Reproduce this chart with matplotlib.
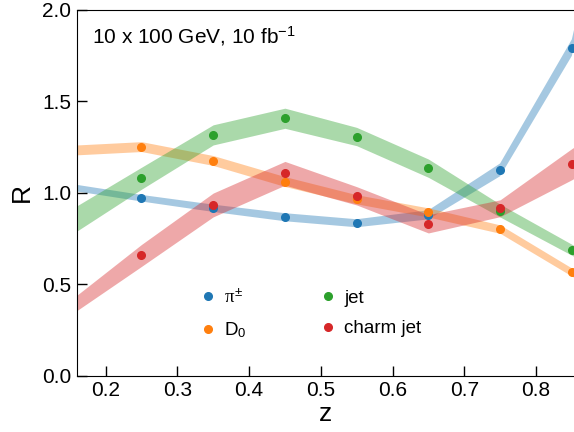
"""
Ratio R versus z for pions, D0, jets and charm jets.
"""

import matplotlib
matplotlib.use("Agg")
import matplotlib.pyplot as plt
import numpy as np

plt.rcParams['font.family'] = ['Liberation Sans', 'DejaVu Sans']
plt.rcParams['mathtext.fontset'] = 'custom'
plt.rcParams['mathtext.rm'] = 'Liberation Sans'
plt.rcParams['mathtext.it'] = 'Liberation Serif'
plt.rcParams['mathtext.sf'] = 'Liberation Sans'

# z bin centres (first and last lie outside the shown range)
z = np.array([0.15, 0.25, 0.35, 0.45, 0.55, 0.65, 0.75, 0.85, 0.95])

pion = np.array([1.032, 0.971, 0.916, 0.867, 0.834, 0.880, 1.126, 1.794, 3.5])
pion_err = np.array([0.018, 0.018, 0.020, 0.022, 0.022, 0.025, 0.035, 0.045, 0.06])

d0 = np.array([1.233, 1.253, 1.177, 1.062, 0.965, 0.893, 0.802, 0.567, 0.35])
d0_err = np.array([0.027, 0.027, 0.027, 0.027, 0.025, 0.025, 0.023, 0.022, 0.022])

jet = np.array([0.836, 1.080, 1.317, 1.408, 1.308, 1.135, 0.903, 0.689, 0.48])
jet_err = np.array([0.070, 0.060, 0.055, 0.055, 0.050, 0.050, 0.035, 0.030, 0.030])

charm = np.array([0.37, 0.658, 0.934, 1.107, 0.984, 0.831, 0.916, 1.157, 1.40])
charm_err = np.array([0.040, 0.060, 0.065, 0.065, 0.050, 0.050, 0.046, 0.085, 0.10])

labels = [r'$\pi^{\pm}$', r'D$_0$', 'jet', 'charm jet']
colors = ['tab:blue', 'tab:orange', 'tab:green', 'tab:red']

fig = plt.figure(figsize=(5.74, 4.32), dpi=100)
ax = fig.add_axes([0.134, 0.13, 0.866, 0.847])

series = [(pion, pion_err), (d0, d0_err), (jet, jet_err), (charm, charm_err)]

# uncertainty bands
for (val, err), col in zip(series, colors):
    ax.fill_between(z, val - err, val + err, color=col, alpha=0.4, lw=0)

# points
for (val, err), col, lab in zip(series, colors, labels):
    ax.plot(z, val, 'o', color=col, ms=5.5, label=lab)

ax.set_xlim(0.16, 0.853)
ax.set_ylim(0.0, 2.0)
ax.set_xticks([0.2, 0.3, 0.4, 0.5, 0.6, 0.7, 0.8])
ax.set_yticks([0.0, 0.5, 1.0, 1.5, 2.0])
ax.yaxis.set_major_formatter(matplotlib.ticker.FormatStrFormatter('%.1f'))
ax.tick_params(direction='in', length=7, width=1, labelsize=15, pad=4)
ax.spines['right'].set_visible(False)

ax.set_xlabel('z', fontsize=19, labelpad=1)
ax.set_ylabel('R', fontsize=19, labelpad=6)

ax.text(0.03, 0.96, r'10 x 100 GeV, 10 fb$^{-1}$', transform=ax.transAxes,
        fontsize=15, va='top', ha='left')

ax.legend(loc='upper left', bbox_to_anchor=(0.21, 0.285), ncol=2, frameon=False,
          fontsize=13.5, handlelength=1.0, handletextpad=0.4, columnspacing=3.8,
          labelspacing=0.7, numpoints=1)

plt.savefig("out.png", dpi=100)
